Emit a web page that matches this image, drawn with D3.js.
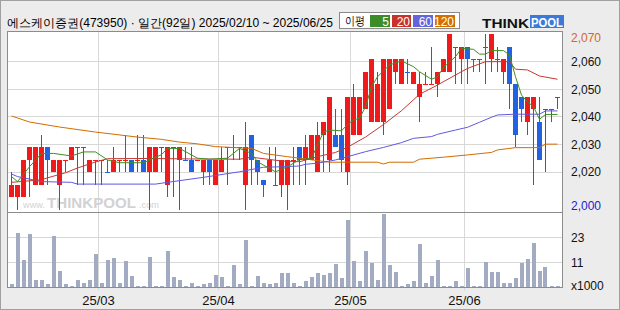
<!DOCTYPE html>
<html>
<head>
<meta charset="utf-8">
<script src="https://cdn.jsdelivr.net/npm/d3@7"></script>
<style>
  html, body { margin: 0; padding: 0; background: #fff; }
  svg { display: block; }
  text { font-family: "Liberation Sans", Arial, sans-serif; }
</style>
</head>
<body>
<svg id="chart" width="620" height="310"></svg>
<script>
// daily candles, 2025/02/10 ~ 2025/06/25 (92 trading days)
const opens  = [2005,2005,2005,2020,2010,2010,2025,2015,2010,2020, 2020,2025,2025,2015,2020,2020,2015,2015,2020,2020,
                2020,2020,2020,2015,2015,2025,2010,2025,2020,2020, 2020,2020,2015,2020,2010,2015,2025,2025,2025,2010,
                2030,2020,2012,2015,2010,2010,2010,2020,2025,2020, 2020,2015,2030,2020,2030,2030,2015,2030,2030,2040,
                2035,2035,2035,2040,2055,2050,2055,2050,2045,2050, 2050,2050,2055,2055,2065,2060,2065,2060,2060,2065,
                2060,2060,2055,2065,2050,2045,2035,2040,2035,2040, 2040,2045];
const highs  = [2015,2010,2020,2025,2025,2030,2025,2020,2020,2020, 2025,2025,2025,2020,2020,2020,2020,2025,2020,2030,
                2020,2030,2030,2025,2025,2025,2025,2025,2025,2025, 2025,2020,2020,2020,2020,2025,2025,2030,2025,2035,
                2030,2020,2012,2025,2025,2020,2020,2025,2025,2030, 2030,2035,2035,2045,2040,2040,2045,2050,2045,2055,
                2060,2055,2060,2060,2060,2060,2060,2055,2055,2055, 2065,2055,2060,2070,2065,2065,2065,2060,2060,2070,
                2070,2065,2060,2065,2050,2045,2045,2045,2045,2040, 2040,2045];
const lows   = [2005,2000,2005,2005,2010,2010,2010,2015,2000,2015, 2020,2010,2010,2015,2010,2010,2015,2015,2015,2015,
                2015,2015,2015,2000,2015,2015,2005,2005,2000,2020, 2015,2020,2010,2010,2010,2015,2010,2020,2020,2000,
                2010,2010,2005,2015,2010,2005,2000,2010,2010,2010, 2020,2015,2015,2015,2025,2015,2010,2030,2030,2040,
                2035,2035,2030,2040,2050,2050,2050,2050,2035,2050, 2050,2045,2055,2055,2050,2050,2050,2055,2055,2050,
                2055,2055,2050,2040,2025,2035,2030,2010,2020,2015, 2035,2040];
const closes = [2010,2010,2020,2025,2025,2025,2020,2020,2020,2020, 2025,2025,2025,2020,2020,2020,2015,2020,2020,2020,
                2015,2020,2015,2025,2025,2025,2025,2025,2025,2020, 2015,2020,2020,2015,2020,2020,2025,2025,2025,2025,
                2020,2015,2010,2020,2010,2020,2020,2020,2020,2025, 2030,2030,2035,2045,2025,2020,2045,2045,2045,2055,
                2060,2050,2060,2060,2060,2060,2055,2055,2050,2050, 2050,2055,2060,2070,2065,2065,2060,2060,2060,2065,
                2070,2060,2060,2050,2030,2040,2045,2045,2020,2040, 2040,2045];
// volume, x1000 shares
const volumes = [1.4,25.3,12.6,24.7,3.7,3.7,1.4,23.9,7.5,1.4, 0.5,3.3,2,3.7,15.4,1.9,12.6,13.5,2.3,12.1,
                 5.1,0.5,0.5,14,0.9,0.9,16.8,4.7,3.3,0.9, 2.3,0.5,1.4,1.9,6,4.7,0.5,10.3,1.4,21.9,
                 0.5,5.1,2.3,1.4,1.9,6.5,6.5,2.3,0.5,2.8, 4.7,6.5,5.6,6.5,10.7,4.2,31.2,12.1,2.8,16.8,
                 11.2,3.7,34,10.3,7,0.5,1.4,2.8,20,1.9, 5.1,12.6,0.5,0.5,2.8,0.5,8.9,0.5,0.5,11.7,
                 7,7,1.9,2.3,4.2,11.2,13,20.5,7.5,9.3, 0.9,0.9];

// moving averages: [day index, value]
const ma5 = [[0,2013.3],[1,2011.3],[3,2017.2],[5,2022.5],[7,2022.5],[10,2021.5],[12,2023.1],[14,2023.1],[16,2019.9],
             [18,2018.8],[22,2018.8],[25,2022],[26,2024.5],[28,2024.5],[31,2020.6],[33,2020.2],[36,2020.6],[38,2024.5],
             [40,2022.5],[41,2019.2],[44,2015.2],[46,2017.2],[48,2020],[50,2020.6],[52,2031],[53,2031.8],[55,2031.5],
             [56,2034],[57,2035.8],[58,2036.5],[59,2041],[60,2049],[61,2053],[63,2057.7],[65,2059.3],[67,2057],
             [68,2055],[70,2052],[71,2053],[72,2056.7],[74,2061],[75,2064.3],[77,2063.9],[78,2062],[79,2062],
             [80,2063.4],[82,2063.4],[83,2061.6],[84,2053],[85,2045.7],[86,2043],[87,2041.1],[88,2036.1],[89,2038],[91,2038]];
const ma20 = [[0,2011],[5,2012],[6,2012.8],[9,2014.8],[11,2016.7],[14,2019.1],[16,2020.4],[23,2020.5],[30,2020.3],
              [38,2020.2],[40,2021],[45,2019.5],[48,2019.2],[51,2021.2],[54,2022.9],[56,2025],[59,2029],[62,2034],
              [65,2039.5],[68,2046],[71,2049.7],[74,2053.7],[76,2056.3],[79,2059],[83,2059],[84,2056],[86,2055.7],
              [88,2053.3],[91,2052]];
const ma60 = [[0,2014.3],[1,2013.3],[5,2011.3],[10,2011],[11,2010.3],[24,2010.3],[26,2011],[32,2013],[38,2015.2],
              [42,2017],[45,2017.2],[48,2017.5],[49,2018.2],[51,2018.6],[54,2019.9],[56,2021.2],[59,2023.2],[62,2024.9],
              [65,2026.8],[67,2028.5],[70,2029.2],[71,2030.1],[74,2031.8],[76,2032.9],[78,2034.9],[80,2036.9],
              [81,2037.8],[84,2038.1],[88,2038.1],[89,2039.4],[91,2039.4]];
const ma120 = [[0,2037.4],[3,2035],[8,2033],[14,2031],[21,2029],[25,2028.1],[28,2027],[31,2026.3],[34,2025.2],
               [40,2024.5],[42,2022.5],[46,2021.2],[48,2020.6],[53,2019],[61,2019],[62,2018.3],[63,2019],[67,2019],
               [68,2020.2],[72,2021],[76,2021.9],[80,2022.9],[81,2023.9],[84,2024.8],[88,2024.8],[89,2026.2],[91,2026.2]];

const priceTickValues = [2059, 2048, 2037, 2026, 2015];
const priceTickLabels = ["2,060", "2,050", "2,040", "2,030", "2,020"];
const volTickValues = [11.5, 23];
const volTickLabels = ["11", "23"];
const monthStarts = [15, 35, 57, 76];
const monthLabels = ["25/03", "25/04", "25/05", "25/06"];
const maNames = ["5", "20", "60", "120"];

const maColors = ["#3f8f23", "#c23a32", "#6258e0", "#d26c00"];
const legendColors = ["#3c8c28", "#c8322d", "#6464dc", "#d46e00"];
const upColor = "#f01a1a", downColor = "#2062e2";

const svg = d3.select("#chart");
const box = { left: 7.5, right: 562.5, top: 31.5, split: 212.5, bottom: 287.5 };

const x = d3.scaleLinear().domain([0, 91]).range([11.5, 557.5]);
const y = d3.scaleLinear().domain([2000, 2070]).range([210, 34]);
const yv = d3.scaleLinear().domain([0, 34.5]).range([287.5, 213]);

// background + plot area
svg.append("rect").attr("x", 0.5).attr("y", 0.5).attr("width", 619).attr("height", 309)
  .attr("fill", "#ececec").attr("stroke", "#a0a0a0");
svg.append("rect").attr("x", box.left).attr("y", box.top)
  .attr("width", box.right - box.left).attr("height", box.bottom - box.top).attr("fill", "#fff");

// title
svg.append("text").attr("x", 7).attr("y", 26.5)
  .attr("font-family", "'Noto Sans CJK KR', sans-serif").attr("font-size", 12).attr("fill", "#000")
  .attr("textLength", 326).attr("lengthAdjust", "spacingAndGlyphs")
  .text("에스케이증권(473950) · 일간(92일) 2025/02/10 ~ 2025/06/25");

// legend
const lg = svg.append("g");
lg.append("rect").attr("x", 339.5).attr("y", 12.5).attr("width", 120).attr("height", 16)
  .attr("fill", "#fff").attr("stroke", "#8a8a8a");
lg.append("text").attr("x", 345).attr("y", 25).attr("font-family", "'Noto Sans CJK KR', sans-serif")
  .attr("font-size", 12).attr("fill", "#000")
  .attr("textLength", 20).attr("lengthAdjust", "spacingAndGlyphs").text("이평");
const legX = [370, 392, 413, 435], legW = [20, 19, 20, 20];
maNames.forEach((n, k) => {
  lg.append("rect").attr("x", legX[k]).attr("y", 15).attr("width", legW[k]).attr("height", 12)
    .attr("fill", legendColors[k]);
  lg.append("text").attr("x", legX[k] + legW[k] - 1).attr("y", 25.5).attr("text-anchor", "end")
    .attr("font-size", 12).attr("fill", "#fff").text(n);
});

// logo
const logo = svg.append("g");
logo.append("text").attr("x", 482).attr("y", 27.5).attr("font-family", "'DejaVu Sans', sans-serif")
  .attr("font-size", 13).attr("font-weight", "bold").attr("fill", "#111")
  .attr("textLength", 47).attr("lengthAdjust", "spacingAndGlyphs").text("THINK");
logo.append("rect").attr("x", 530).attr("y", 15).attr("width", 34).attr("height", 13).attr("fill", "#3d7ad8");
logo.append("text").attr("x", 531).attr("y", 27).attr("font-family", "'DejaVu Sans', sans-serif")
  .attr("font-size", 12).attr("font-weight", "bold").attr("fill", "#fff")
  .attr("textLength", 32).attr("lengthAdjust", "spacingAndGlyphs").text("POOL");

// grid lines
const grid = svg.append("g").attr("stroke", "#d8d8d8").attr("stroke-width", 1);
priceTickValues.forEach(v => {
  const yy = Math.floor(y(v)) + 0.5;
  grid.append("line").attr("x1", box.left).attr("x2", box.right).attr("y1", yy).attr("y2", yy);
});
volTickValues.forEach(v => {
  const yy = Math.floor(yv(v)) + 0.5;
  grid.append("line").attr("x1", box.left).attr("x2", box.right).attr("y1", yy).attr("y2", yy);
});
monthStarts.forEach(i => {
  const xx = x(i) - 3;
  grid.append("line").attr("x1", xx).attr("x2", xx).attr("y1", box.top).attr("y2", box.bottom + 3);
});

// watermark
const wm = svg.append("g").attr("fill", "#d2d2d2");
wm.append("text").attr("x", 23).attr("y", 208).attr("font-size", 9)
  .attr("textLength", 22).attr("lengthAdjust", "spacingAndGlyphs").text("www.");
wm.append("text").attr("x", 47).attr("y", 208).attr("font-size", 15).attr("font-weight", "bold")
  .attr("textLength", 89).attr("lengthAdjust", "spacingAndGlyphs").text("THINKPOOL");
wm.append("text").attr("x", 139).attr("y", 208).attr("font-size", 9)
  .attr("textLength", 20).attr("lengthAdjust", "spacingAndGlyphs").text(".com");

// price panel
svg.append("clipPath").attr("id", "priceClip").append("rect")
  .attr("x", box.left).attr("y", box.top).attr("width", box.right - box.left).attr("height", box.split - box.top);
const pg = svg.append("g").attr("clip-path", "url(#priceClip)");

const days = d3.range(opens.length);
const colorOf = i => {
  const o = opens[i], c = closes[i];
  if (c > o) return upColor;
  if (c < o) return downColor;
  const prev = i > 0 ? closes[i - 1] : o;
  return c < prev ? downColor : upColor;
};

pg.append("g").selectAll("line").data(days).join("line")
  .attr("x1", i => x(i)).attr("x2", i => x(i))
  .attr("y1", i => Math.round(y(highs[i]))).attr("y2", i => Math.round(y(lows[i])))
  .attr("stroke", colorOf).attr("stroke-width", 1);

pg.append("g").selectAll("rect").data(days).join("rect")
  .attr("x", i => x(i) - 2.5).attr("width", 5)
  .attr("y", i => Math.round(y(Math.max(opens[i], closes[i]))))
  .attr("height", i => Math.max(1, Math.round(y(Math.min(opens[i], closes[i]))) - Math.round(y(Math.max(opens[i], closes[i])))))
  .attr("fill", colorOf);

const line = d3.line().x(d => x(d[0])).y(d => y(d[1]));
[ma120, ma60, ma20, ma5].forEach((s, k) => {
  pg.append("path").datum(s).attr("d", line).attr("fill", "none")
    .attr("stroke", maColors[3 - k]).attr("stroke-width", 1);
});

// volume panel
svg.append("g").selectAll("rect").data(days).join("rect")
  .attr("x", i => Math.round(x(i) - 2)).attr("width", 4)
  .attr("y", i => Math.round(yv(volumes[i])))
  .attr("height", i => box.bottom - Math.round(yv(volumes[i])))
  .attr("fill", "#a2abc2");

// frame
const frame = svg.append("g").attr("fill", "none").attr("stroke", "#8c8c8c");
frame.append("rect").attr("x", box.left).attr("y", box.top)
  .attr("width", box.right - box.left).attr("height", box.bottom - box.top);
frame.append("line").attr("x1", box.left).attr("x2", box.right).attr("y1", box.split).attr("y2", box.split);

// right axis labels
const ax = svg.append("g").attr("font-size", 12);
priceTickValues.forEach((v, k) => {
  ax.append("text").attr("x", 571).attr("y", y(v)).attr("dy", "0.35em").attr("fill", "#111").text(priceTickLabels[k]);
});
const fmt = d3.format(",");
const maxP = d3.max(highs), minP = d3.min(lows);
ax.append("text").attr("x", 571).attr("y", Math.max(y(maxP), box.top + 6)).attr("dy", "0.35em")
  .attr("fill", "#d2691e").text(fmt(maxP));
ax.append("text").attr("x", 571).attr("y", Math.min(y(minP), box.split - 7)).attr("dy", "0.35em")
  .attr("fill", "#1c1cd0").text(fmt(minP));
volTickValues.forEach((v, k) => {
  ax.append("text").attr("x", 571).attr("y", yv(v)).attr("dy", "0.35em").attr("fill", "#111").text(volTickLabels[k]);
});
ax.append("text").attr("x", 571).attr("y", 286).attr("dy", "0.35em").attr("fill", "#111").text("x1000");

// bottom date labels
monthStarts.forEach((i, k) => {
  svg.append("text").attr("x", x(i) - 3).attr("y", 305).attr("text-anchor", "middle")
    .attr("font-size", 13).attr("fill", "#111").text(monthLabels[k]);
});
</script>
</body>
</html>
